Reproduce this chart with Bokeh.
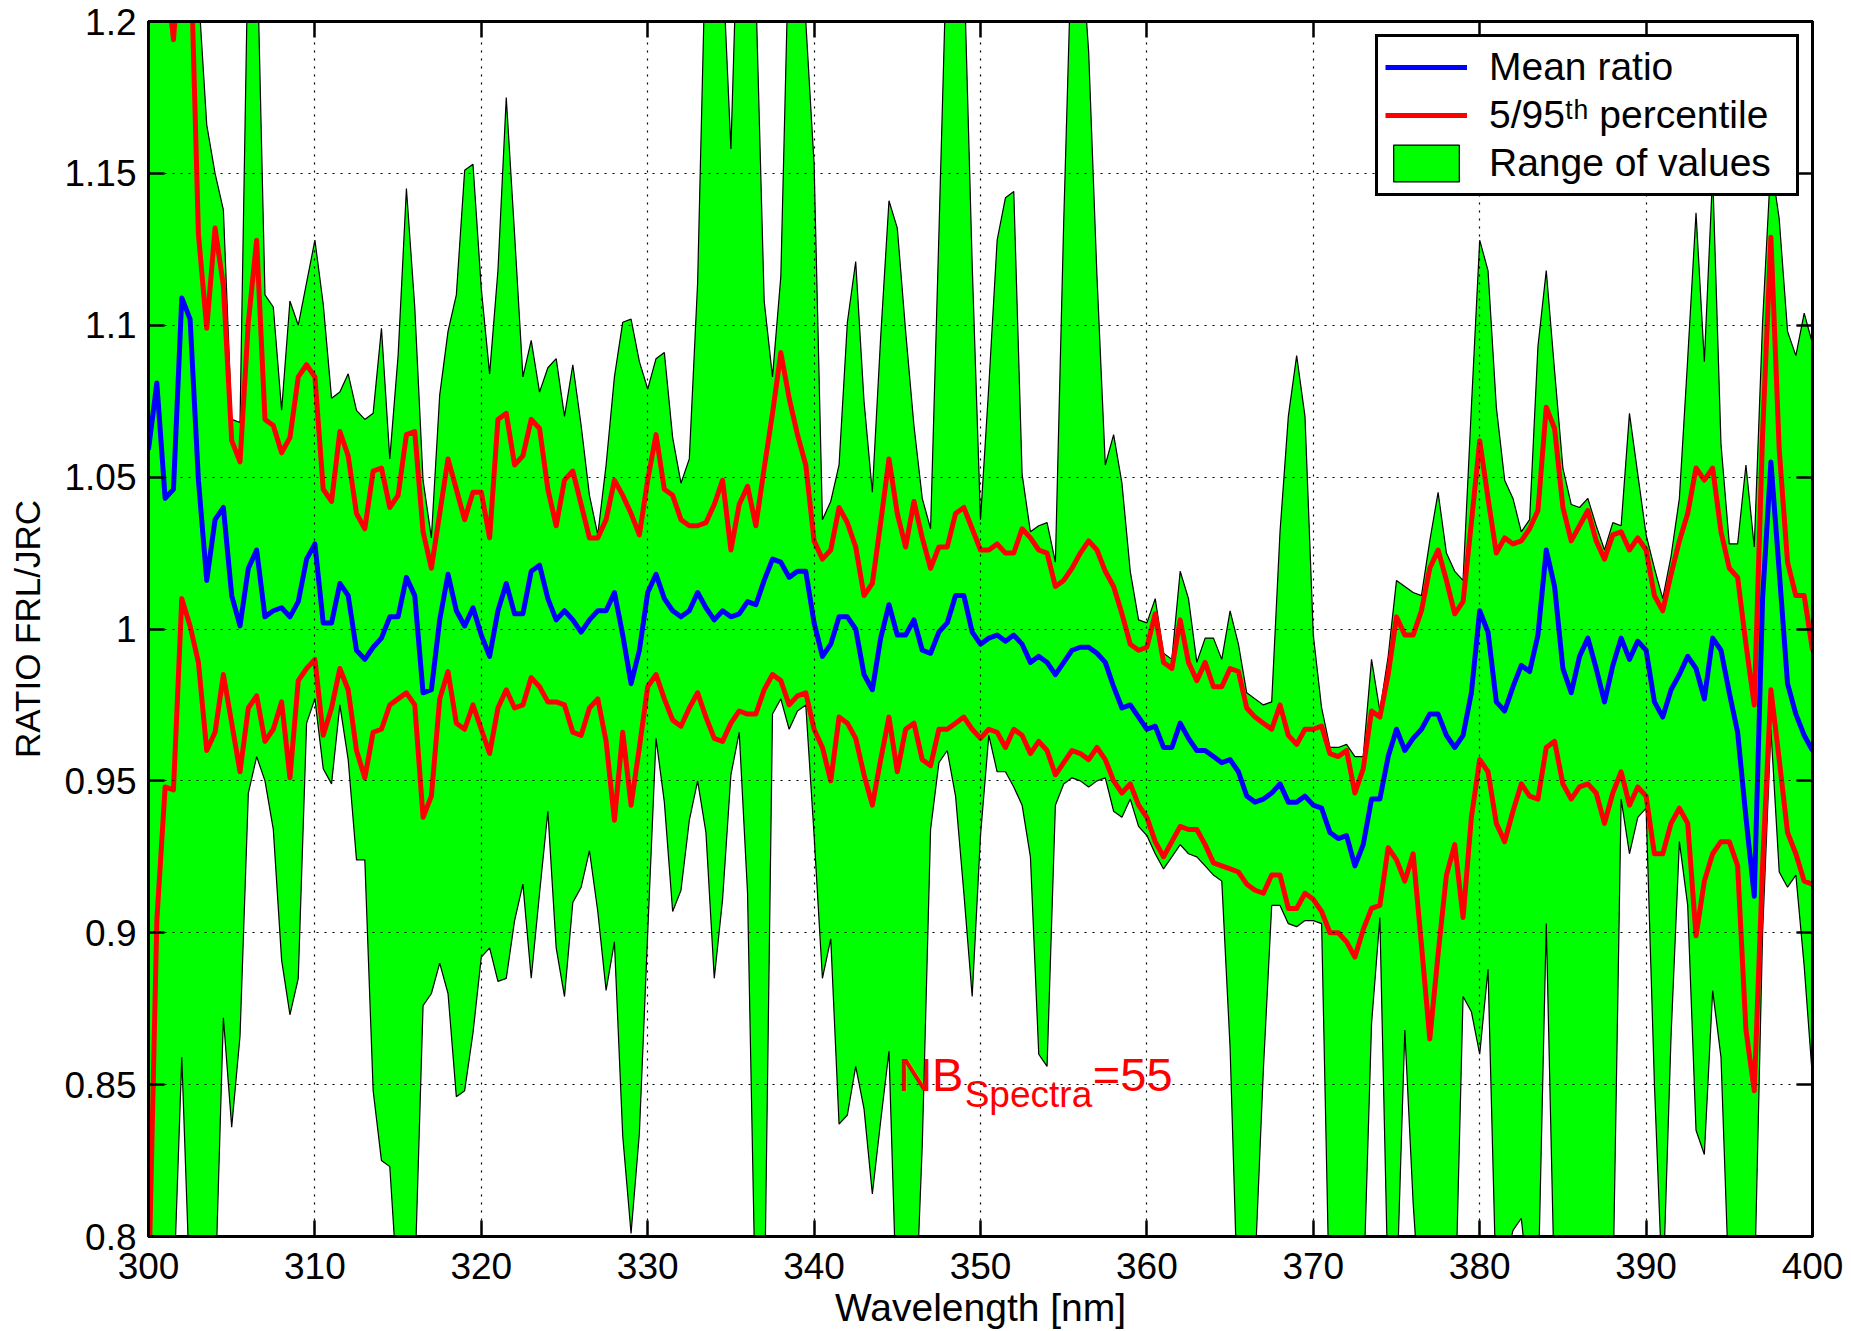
from bokeh.plotting import figure
from bokeh.models import (ColumnDataSource, Range1d, LinearAxis, FixedTicker,
                          CustomJSTickFormatter, Legend, LegendItem, Label)
from bokeh.embed import file_html
from bokeh.resources import INLINE

# ---------------- data (0.5 nm steps, 300..400 nm) ----------------
wavelength = [300 + 0.5 * i for i in range(201)]

mean_ratio = [
    1.059, 1.081, 1.043, 1.046, 1.109, 1.102, 1.049, 1.016, 1.036, 1.040, 1.011,
    1.001, 1.020, 1.026, 1.004, 1.006, 1.007, 1.004, 1.009, 1.023, 1.028,
    1.002, 1.002, 1.015, 1.011, 0.993, 0.990, 0.994, 0.997, 1.004, 1.004,
    1.017, 1.011, 0.979, 0.980, 1.003, 1.018, 1.006, 1.001, 1.007, 0.998,
    0.991, 1.006, 1.015, 1.005, 1.005, 1.019, 1.021, 1.010, 1.003, 1.006,
    1.003, 0.999, 1.003, 1.006, 1.006, 1.012, 0.998, 0.982, 0.993, 1.012,
    1.018, 1.010, 1.006, 1.004, 1.006, 1.012, 1.007, 1.003, 1.006, 1.004,
    1.005, 1.009, 1.008, 1.016, 1.023, 1.022, 1.017, 1.019, 1.019, 1.002,
    0.991, 0.995, 1.004, 1.004, 1.000, 0.985, 0.980, 0.997, 1.008, 0.998,
    0.998, 1.003, 0.993, 0.992, 0.999, 1.002, 1.011, 1.011, 0.999, 0.995,
    0.997, 0.998, 0.996, 0.998, 0.995, 0.989, 0.991, 0.989, 0.985, 0.989,
    0.993, 0.994, 0.994, 0.992, 0.989, 0.981, 0.974, 0.975, 0.971, 0.967,
    0.968, 0.961, 0.961, 0.969, 0.964, 0.960, 0.960, 0.958, 0.956, 0.957,
    0.953, 0.945, 0.943, 0.944, 0.946, 0.949, 0.943, 0.943, 0.945, 0.942,
    0.941, 0.933, 0.931, 0.932, 0.922, 0.929, 0.944, 0.944, 0.958, 0.967,
    0.960, 0.964, 0.967, 0.972, 0.972, 0.965, 0.961, 0.965, 0.979, 1.006,
    0.999, 0.976, 0.973, 0.981, 0.988, 0.986, 0.998, 1.026, 1.014, 0.987,
    0.979, 0.991, 0.997, 0.987, 0.976, 0.988, 0.997, 0.990, 0.996, 0.993,
    0.976, 0.971, 0.980, 0.985, 0.991, 0.987, 0.977, 0.997, 0.993, 0.979,
    0.966, 0.938, 0.912, 1.010, 1.055, 1.019, 0.982, 0.972, 0.965, 0.960,
]

pct95 = [
    1.25, 1.23, 1.22, 1.194, 1.23, 1.23, 1.130, 1.099, 1.132, 1.113, 1.062,
    1.055, 1.101, 1.128, 1.069, 1.067, 1.058, 1.063, 1.083, 1.087, 1.083,
    1.046, 1.042, 1.065, 1.057, 1.038, 1.033, 1.052, 1.053, 1.040, 1.044,
    1.064, 1.065, 1.032, 1.020, 1.038, 1.056, 1.046, 1.036, 1.045, 1.045,
    1.030, 1.069, 1.071, 1.054, 1.057, 1.069, 1.066, 1.046, 1.034, 1.049,
    1.052, 1.041, 1.030, 1.030, 1.036, 1.049, 1.044, 1.038, 1.031, 1.049,
    1.064, 1.046, 1.044, 1.036, 1.034, 1.034, 1.035, 1.041, 1.049, 1.026,
    1.041, 1.047, 1.034, 1.053, 1.071, 1.091, 1.076, 1.064, 1.054, 1.029,
    1.023, 1.026, 1.040, 1.035, 1.027, 1.011, 1.015, 1.035, 1.056, 1.038,
    1.027, 1.042, 1.030, 1.020, 1.027, 1.027, 1.038, 1.040, 1.033, 1.026,
    1.026, 1.028, 1.025, 1.025, 1.033, 1.030, 1.026, 1.025, 1.014, 1.016,
    1.020, 1.025, 1.029, 1.026, 1.019, 1.014, 1.005, 0.995, 0.993, 0.994,
    1.005, 0.989, 0.987, 1.003, 0.989, 0.983, 0.989, 0.981, 0.981, 0.987,
    0.986, 0.974, 0.971, 0.969, 0.967, 0.975, 0.965, 0.962, 0.967, 0.967,
    0.968, 0.959, 0.958, 0.960, 0.946, 0.954, 0.973, 0.971, 0.985, 1.004,
    0.998, 0.998, 1.006, 1.020, 1.026, 1.016, 1.005, 1.009, 1.035, 1.062,
    1.043, 1.025, 1.030, 1.028, 1.029, 1.033, 1.039, 1.073, 1.066, 1.040,
    1.029, 1.034, 1.039, 1.029, 1.023, 1.031, 1.032, 1.026, 1.030, 1.026,
    1.011, 1.006, 1.018, 1.029, 1.038, 1.053, 1.049, 1.053, 1.032, 1.020,
    1.017, 0.995, 0.975, 1.064, 1.129, 1.059, 1.022, 1.011, 1.011, 0.993,
]

pct5 = [
    0.78, 0.904, 0.948, 0.947, 1.010, 1.001, 0.989, 0.960, 0.966, 0.985, 0.969,
    0.953, 0.974, 0.978, 0.963, 0.967, 0.976, 0.951, 0.983, 0.987, 0.990,
    0.965, 0.974, 0.987, 0.980, 0.960, 0.951, 0.966, 0.967, 0.975, 0.977,
    0.979, 0.975, 0.938, 0.945, 0.977, 0.986, 0.969, 0.967, 0.975, 0.967,
    0.959, 0.974, 0.980, 0.974, 0.975, 0.984, 0.981, 0.976, 0.976, 0.975,
    0.966, 0.965, 0.974, 0.977, 0.963, 0.937, 0.966, 0.942, 0.961, 0.981,
    0.985, 0.977, 0.970, 0.968, 0.974, 0.979, 0.971, 0.964, 0.963, 0.969,
    0.973, 0.972, 0.972, 0.980, 0.985, 0.983, 0.975, 0.978, 0.979, 0.967,
    0.961, 0.950, 0.971, 0.969, 0.964, 0.952, 0.942, 0.957, 0.971, 0.953,
    0.967, 0.969, 0.957, 0.955, 0.967, 0.967, 0.969, 0.971, 0.967, 0.964,
    0.967, 0.966, 0.961, 0.967, 0.965, 0.959, 0.963, 0.960, 0.952, 0.956,
    0.960, 0.959, 0.957, 0.961, 0.957, 0.950, 0.946, 0.949, 0.942, 0.938,
    0.930, 0.925, 0.930, 0.935, 0.934, 0.934, 0.929, 0.923, 0.922, 0.921,
    0.920, 0.916, 0.914, 0.913, 0.919, 0.919, 0.908, 0.908, 0.913, 0.911,
    0.907, 0.900, 0.900, 0.897, 0.892, 0.901, 0.908, 0.909, 0.928, 0.924,
    0.917, 0.926, 0.896, 0.865, 0.893, 0.919, 0.929, 0.905, 0.938, 0.957,
    0.953, 0.936, 0.930, 0.940, 0.949, 0.945, 0.944, 0.961, 0.963, 0.949,
    0.944, 0.948, 0.949, 0.946, 0.936, 0.946, 0.953, 0.942, 0.948, 0.945,
    0.926, 0.926, 0.936, 0.941, 0.936, 0.899, 0.917, 0.926, 0.930, 0.930,
    0.922, 0.868, 0.848, 0.922, 0.980, 0.957, 0.933, 0.926, 0.917, 0.916,
]

range_max = [
    1.25, 1.25, 1.25, 1.25, 1.25, 1.25, 1.21, 1.166, 1.150, 1.138, 1.069,
    1.068, 1.23, 1.23, 1.110, 1.106, 1.072, 1.108, 1.100, 1.114, 1.128,
    1.107, 1.076, 1.078, 1.084, 1.072, 1.069, 1.071, 1.099, 1.056, 1.090,
    1.145, 1.106, 1.049, 1.030, 1.077, 1.098, 1.110, 1.151, 1.153, 1.112,
    1.084, 1.118, 1.175, 1.130, 1.083, 1.095, 1.078, 1.086, 1.089, 1.070,
    1.087, 1.067, 1.044, 1.031, 1.054, 1.083, 1.101, 1.102, 1.088, 1.079,
    1.089, 1.091, 1.063, 1.048, 1.056, 1.114, 1.23, 1.24, 1.22, 1.158,
    1.25, 1.25, 1.21, 1.108, 1.083, 1.116, 1.23, 1.25, 1.20, 1.153,
    1.036, 1.042, 1.054, 1.101, 1.121, 1.075, 1.045, 1.096, 1.141, 1.132,
    1.098, 1.067, 1.043, 1.033, 1.130, 1.23, 1.25, 1.22, 1.120, 1.036,
    1.080, 1.128, 1.142, 1.144, 1.051, 1.032, 1.034, 1.035, 1.022, 1.134,
    1.23, 1.23, 1.19, 1.116, 1.054, 1.064, 1.048, 1.019, 1.003, 1.002,
    1.010, 0.992, 0.990, 1.019, 1.010, 0.989, 0.997, 0.997, 0.990, 1.006,
    0.995, 0.979, 0.977, 0.975, 0.976, 1.032, 1.070, 1.090, 1.070, 0.998,
    0.974, 0.961, 0.961, 0.962, 0.958, 0.958, 0.990, 0.973, 0.991, 1.016,
    1.014, 1.012, 1.011, 1.029, 1.045, 1.025, 1.019, 1.016, 1.073, 1.128,
    1.118, 1.073, 1.049, 1.043, 1.032, 1.036, 1.093, 1.118, 1.085, 1.053,
    1.041, 1.040, 1.043, 1.034, 1.026, 1.035, 1.034, 1.071, 1.051, 1.031,
    1.020, 1.010, 1.024, 1.043, 1.089, 1.137, 1.088, 1.150, 1.061, 1.028,
    1.028, 1.054, 1.027, 1.101, 1.154, 1.135, 1.098, 1.090, 1.104, 1.094,
]

range_min = [
    0.78, 0.78, 0.78, 0.78, 0.859, 0.78, 0.78, 0.78, 0.78, 0.872, 0.836,
    0.866, 0.946, 0.958, 0.950, 0.934, 0.891, 0.873, 0.885, 0.969, 0.977,
    0.954, 0.949, 0.975, 0.957, 0.924, 0.924, 0.848, 0.825, 0.823, 0.78,
    0.78, 0.785, 0.876, 0.880, 0.890, 0.880, 0.846, 0.848, 0.867, 0.892,
    0.895, 0.884, 0.885, 0.904, 0.916, 0.885, 0.913, 0.940, 0.895, 0.879,
    0.910, 0.915, 0.927, 0.907, 0.881, 0.897, 0.833, 0.801, 0.834, 0.900,
    0.964, 0.943, 0.907, 0.914, 0.937, 0.950, 0.933, 0.885, 0.911, 0.952,
    0.966, 0.913, 0.77, 0.77, 0.972, 0.977, 0.967, 0.973, 0.975, 0.932,
    0.885, 0.898, 0.837, 0.840, 0.856, 0.842, 0.814, 0.838, 0.861, 0.77,
    0.76, 0.76, 0.83, 0.934, 0.956, 0.960, 0.945, 0.913, 0.879, 0.932,
    0.965, 0.953, 0.953, 0.948, 0.942, 0.925, 0.860, 0.856, 0.942, 0.949,
    0.951, 0.950, 0.948, 0.950, 0.951, 0.940, 0.938, 0.944, 0.935, 0.932,
    0.926, 0.921, 0.925, 0.929, 0.926, 0.925, 0.922, 0.919, 0.917, 0.862,
    0.77, 0.76, 0.79, 0.855, 0.909, 0.909, 0.903, 0.902, 0.904, 0.904,
    0.903, 0.77, 0.76, 0.76, 0.76, 0.78, 0.870, 0.905, 0.78, 0.78,
    0.868, 0.811, 0.77, 0.76, 0.76, 0.76, 0.77, 0.879, 0.874, 0.860,
    0.888, 0.78, 0.79, 0.802, 0.806, 0.78, 0.78, 0.903, 0.78, 0.77,
    0.77, 0.77, 0.77, 0.77, 0.77, 0.78, 0.944, 0.926, 0.938, 0.941,
    0.850, 0.78, 0.866, 0.930, 0.909, 0.835, 0.827, 0.881, 0.859, 0.78,
    0.77, 0.77, 0.78, 0.90, 0.967, 0.920, 0.915, 0.919, 0.889, 0.852,
]

x_ticks = [300, 310, 320, 330, 340, 350, 360, 370, 380, 390, 400]
y_ticks = [0.8, 0.85, 0.9, 0.95, 1.0, 1.05, 1.1, 1.15, 1.2]

legend_labels = ["Mean ratio", "5/95\u1d57\u02b0 percentile", "Range of values"]
x_title = "Wavelength [nm]"
y_title = "RATIO FRL/JRC"

FONT = "Liberation Sans"

# ---------------- figure ----------------
p = figure(width=1851, height=1331,
           x_range=Range1d(300, 400), y_range=Range1d(0.8, 1.2),
           output_backend="svg", toolbar_location=None,
           min_border_left=148, min_border_right=39,
           min_border_top=21, min_border_bottom=94,
           x_axis_label=x_title, y_axis_label=y_title,
           background_fill_color="white", border_fill_color="white")
p.outline_line_color = "black"
p.outline_line_width = 3

band = ColumnDataSource(dict(x=wavelength + wavelength[::-1],
                             y=range_max + range_min[::-1]))
r_range = p.patch("x", "y", source=band, fill_color="#00ff00",
                  line_color="black", line_width=1.2)

src = ColumnDataSource(dict(x=wavelength, mean=mean_ratio, p5=pct5, p95=pct95))
r_p95 = p.line("x", "p95", source=src, line_color="#ff0000", line_width=5,
               line_join="round")
r_p5 = p.line("x", "p5", source=src, line_color="#ff0000", line_width=5,
              line_join="round")
r_mean = p.line("x", "mean", source=src, line_color="#0000ff", line_width=5,
                line_join="round")

# ---------------- axes ----------------
y_fmt = CustomJSTickFormatter(code="return String(Math.round(tick*100)/100);")


def style_axis(ax):
    ax.axis_line_color = "black"
    ax.axis_line_width = 3
    ax.major_tick_in = 16
    ax.major_tick_out = 0
    ax.major_tick_line_width = 2.5
    ax.major_tick_line_color = "black"
    ax.minor_tick_line_color = None
    ax.major_label_text_font = FONT
    ax.major_label_text_font_size = "37px"
    ax.major_label_text_color = "black"
    ax.axis_label_text_font = FONT
    ax.axis_label_text_font_style = "normal"
    ax.axis_label_text_color = "black"


xa = p.xaxis[0]
xa.ticker = FixedTicker(ticks=x_ticks)
style_axis(xa)
xa.major_label_standoff = 16
xa.axis_label_standoff = 4
xa.axis_label_text_font_size = "39px"

ya = p.yaxis[0]
ya.ticker = FixedTicker(ticks=y_ticks)
ya.formatter = y_fmt
style_axis(ya)
ya.major_label_standoff = 12
ya.axis_label_standoff = 14
ya.axis_label_text_font_size = "35px"

top = LinearAxis(ticker=FixedTicker(ticks=x_ticks),
                 formatter=CustomJSTickFormatter(code="return '';"))
style_axis(top)
top.major_label_text_font_size = "0px"
top.major_label_standoff = 0
p.add_layout(top, "above")

right = LinearAxis(ticker=FixedTicker(ticks=y_ticks),
                   formatter=CustomJSTickFormatter(code="return '';"))
style_axis(right)
right.major_label_text_font_size = "0px"
right.major_label_standoff = 0
p.add_layout(right, "right")

# ---------------- grid ----------------
p.xgrid.ticker = FixedTicker(ticks=x_ticks)
p.ygrid.ticker = FixedTicker(ticks=y_ticks)
p.grid.grid_line_color = "black"
p.grid.grid_line_dash = "2 6"
p.grid.grid_line_width = 1.2
p.grid.level = "guide"

# ---------------- legend ----------------
legend = Legend(items=[LegendItem(label=legend_labels[0], renderers=[r_mean]),
                       LegendItem(label=legend_labels[1], renderers=[r_p95]),
                       LegendItem(label=legend_labels[2], renderers=[r_range])],
                location="top_right", margin=13, padding=7, spacing=2,
                glyph_width=82, glyph_height=46, label_height=46,
                label_standoff=22, label_width=300,
                label_text_font=FONT, label_text_font_size="39px",
                label_text_color="black",
                border_line_color="black", border_line_width=3,
                border_line_alpha=1.0,
                background_fill_color="white", background_fill_alpha=1.0)
p.add_layout(legend)

# ---------------- annotation NB_Spectra=55 ----------------
ann_main = dict(text_font=FONT, text_font_size="47px", text_color="#ff0000",
                text_baseline="alphabetic")
ann_sub = dict(text_font=FONT, text_font_size="37px", text_color="#ff0000",
               text_baseline="alphabetic")
p.add_layout(Label(x=345.05, y=0.8533, text="NB", **ann_main))
p.add_layout(Label(x=349.05, y=0.8466, text="Spectra", **ann_sub))
p.add_layout(Label(x=356.75, y=0.8533, text="=55", **ann_main))

open("out.html", "w").write(file_html(p, INLINE))
